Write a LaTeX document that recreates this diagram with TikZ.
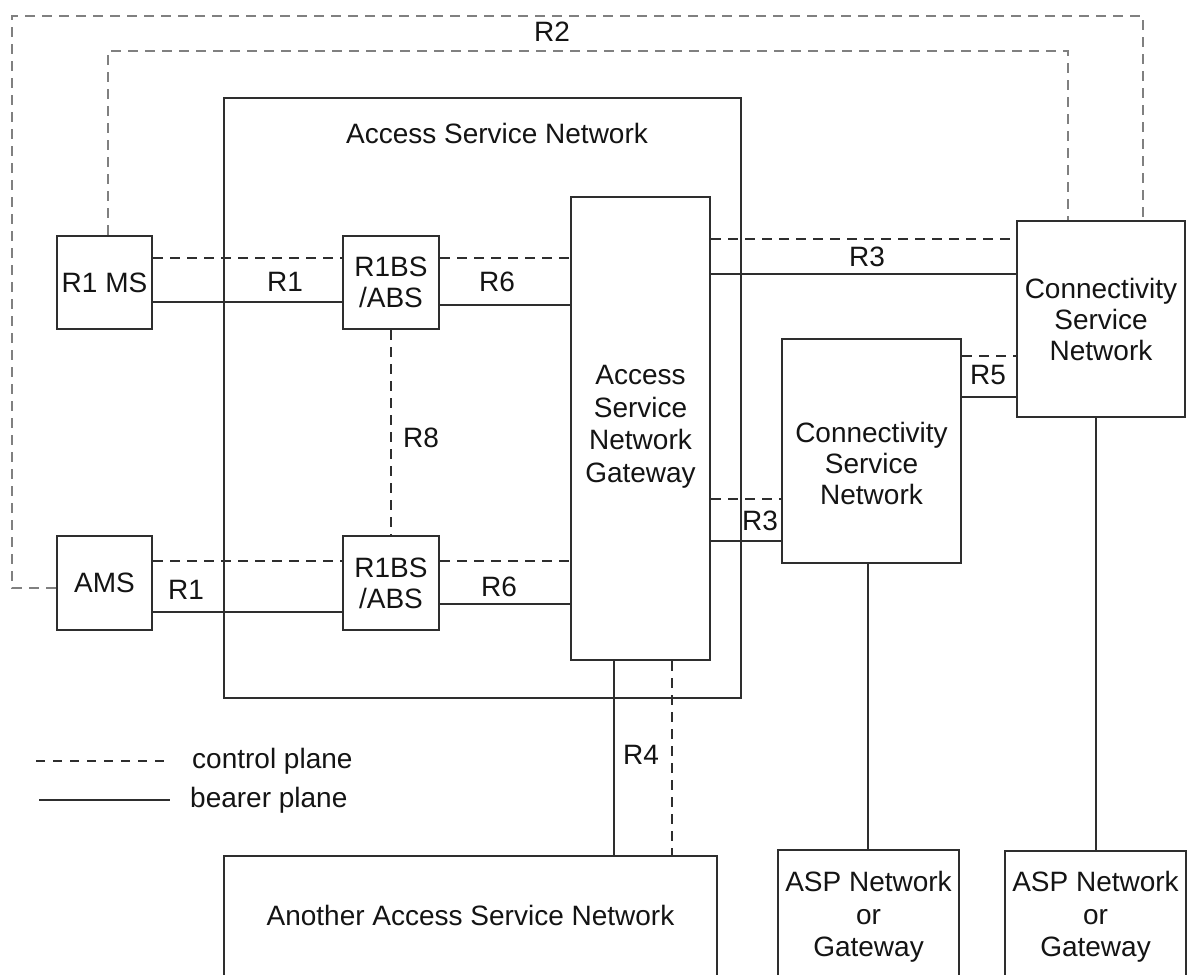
\documentclass[tikz,border=0pt]{standalone}
\usepackage{fontspec}
\setmainfont{Liberation Sans}
\definecolor{linec}{gray}{0.18}
\definecolor{textc}{gray}{0.08}
\definecolor{r2c}{gray}{0.5}
\begin{document}
\begin{tikzpicture}[x=1pt,y=-1pt,
  box/.style={draw=linec, line width=2.1pt, inner sep=0pt, align=center,
    font=\fontsize{28}{31}\selectfont, text=textc},
  lbl/.style={font=\fontsize{28}{32.5}\selectfont, text=textc, inner sep=0pt, align=center},
  bearer/.style={draw=linec, line width=2.1pt},
  ctrl/.style={draw=linec, line width=2.1pt, dash pattern=on 10pt off 7pt},
  ctrlgray/.style={ctrl, draw=r2c}]
\useasboundingbox (0,0) rectangle (1188,974);
\clip (0,0) rectangle (1188,974);
\fill[white] (0,0) rectangle (1188,974);

% boxes
\node[box, minimum width=517pt, minimum height=600pt] (asn) at (482.5,398) {};
\node[lbl] (asnlbl) at (497,133) {Access Service Network};
\node[box, minimum width=95pt, minimum height=93pt] (ms) at (104.5,282.5) {R1 MS};
\node[box, minimum width=96pt, minimum height=93pt] (bs1) at (391,282.5) {R1BS\\/ABS};
\node[box, minimum width=95pt, minimum height=94pt] (ams) at (104.5,583) {AMS};
\node[box, minimum width=96pt, minimum height=94pt] (bs2) at (391,583) {R1BS\\/ABS};
\node[box, minimum width=139pt, minimum height=463pt] (gw) at (640.5,428.5) {};
\node[lbl] (gwtext) at (640.5,427) {Access\\Service\\Network\\Gateway};
\node[lbl, font=\fontsize{28}{31}\selectfont] (csn2text) at (871.5,463) {Connectivity\\Service\\Network};
\node[box, minimum width=179pt, minimum height=224pt] (csn2) at (871.5,451) {};
\node[box, minimum width=168pt, minimum height=196pt] (csn1) at (1101,319) {Connectivity\\Service\\Network};
\node[box, minimum width=493pt, minimum height=150pt] (aasn) at (470.5,931) {};
\node[lbl] (aasntext) at (470.5,915) {Another Access Service Network};
\node[box, minimum width=181pt, minimum height=160pt] (asp1) at (868.5,930) {};
\node[lbl] (asp1text) at (868.5,917) {ASP Network\\or\\Gateway};
\node[box, minimum width=181pt, minimum height=160pt] (asp2) at (1095.5,931) {};
\node[lbl] (asp2text) at (1095.5,917) {ASP Network\\or\\Gateway};

% R2 control paths
\coordinate (oa) at (12,588);
\coordinate (ob) at (12,16);
\coordinate (oc) at (1143,16);
\coordinate (ia) at (108,51);
\coordinate (ib) at (1068,51);
\draw[ctrlgray] (ams.west |- oa) -- (oa) -- (ob) -- (oc) -- (csn1.north -| oc);
\draw[ctrlgray] (ms.north -| ia) -- (ia) -- (ib) -- (csn1.north -| ib);
\node[lbl] (r2) at (552,32) {R2};

% R1 / R6 top
\draw[ctrl] (ms.east |- 0,258) -- (bs1.west |- 0,258);
\draw[bearer] (ms.east |- 0,302) -- (bs1.west |- 0,302);
\draw[ctrl] (bs1.east |- 0,258) -- (gw.west |- 0,258);
\draw[bearer] (bs1.east |- 0,305) -- (gw.west |- 0,305);
\node[lbl] (r1a) at (285,282) {R1};
\node[lbl] (r6a) at (497,282) {R6};

% R8
\draw[ctrl] (bs1.south) -- (bs2.north);
\node[lbl] (r8) at (421,438) {R8};

% R1 / R6 bottom
\draw[ctrl] (ams.east |- 0,561) -- (bs2.west |- 0,561);
\draw[bearer] (ams.east |- 0,612) -- (bs2.west |- 0,612);
\draw[ctrl] (bs2.east |- 0,561) -- (gw.west |- 0,561);
\draw[bearer] (bs2.east |- 0,604) -- (gw.west |- 0,604);
\node[lbl] (r1b) at (186,590) {R1};
\node[lbl] (r6b) at (499,587) {R6};

% R3 to csn1
\draw[ctrl] (gw.east |- 0,239) -- (csn1.west |- 0,239);
\draw[bearer] (gw.east |- 0,274) -- (csn1.west |- 0,274);
\node[lbl] (r3a) at (867,257) {R3};

% R3 to csn2
\draw[ctrl] (gw.east |- 0,499) -- (csn2.west |- 0,499);
\draw[bearer] (gw.east |- 0,541) -- (csn2.west |- 0,541);
\node[lbl] (r3b) at (760,521) {R3};

% R5
\draw[ctrl] (csn2.east |- 0,356) -- (csn1.west |- 0,356);
\draw[bearer] (csn2.east |- 0,397) -- (csn1.west |- 0,397);
\node[lbl] (r5) at (988,375) {R5};

% R4
\draw[bearer] (gw.south -| 614,0) -- (aasn.north -| 614,0);
\draw[ctrl] (gw.south -| 672,0) -- (aasn.north -| 672,0);
\node[lbl] (r4) at (641,755) {R4};

% to ASP
\draw[bearer] (csn2.south -| 868,0) -- (asp1.north -| 868,0);
\draw[bearer] (csn1.south -| 1096,0) -- (asp2.north -| 1096,0);

% legend
\coordinate (la) at (36,761);
\coordinate (lb) at (170,761);
\coordinate (lc) at (39,800);
\coordinate (ld) at (170,800);
\draw[ctrl, dash pattern=on 9pt off 8pt] (la) -- (lb);
\node[lbl, anchor=west] (lctrl) at (192,761) {control plane};
\draw[bearer] (lc) -- (ld);
\node[lbl, anchor=west] (lbear) at (190,800) {bearer plane};
\end{tikzpicture}
\end{document}
